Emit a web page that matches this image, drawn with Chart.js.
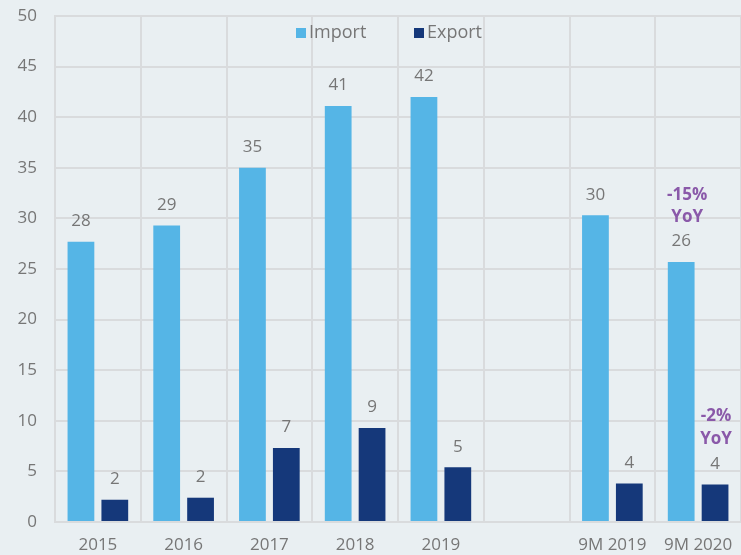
<!DOCTYPE html>
<html>
<head>
<meta charset="utf-8">
<script src="https://cdn.jsdelivr.net/npm/chart.js@4/dist/chart.umd.min.js"></script>
<style>
  html, body { margin: 0; padding: 0; background: #e9eff2; }
  #wrap { width: 741px; height: 555px; }
</style>
</head>
<body>
<div id="wrap"><canvas id="chart" width="741" height="555"></canvas></div>
<script>
// Chart data (bn)
const categories = ['2015', '2016', '2017', '2018', '2019', '', '9M 2019', '9M 2020'];
const importValues = [27.7, 29.3, 35.0, 41.1, 42.0, null, 30.3, 25.7];
const exportValues = [2.2, 2.4, 7.3, 9.3, 5.4, null, 3.8, 3.7];
const yTicks = [0, 5, 10, 15, 20, 25, 30, 35, 40, 45, 50];
const importNote = ['-15%', 'YoY'];
const exportNote = ['-2%', 'YoY'];

const FONT = "'Open Sans', 'Noto Sans', sans-serif";
const GRAY = '#767676';
const PURPLE = '#8a59a9';

// value labels, YoY notes and the legend inside the plot
const labelsPlugin = {
  id: 'labels',
  afterDatasetsDraw(chart) {
    const ctx = chart.ctx;
    ctx.save();
    ctx.font = '17px ' + FONT;
    ctx.fillStyle = GRAY;
    ctx.textAlign = 'center';
    ctx.textBaseline = 'bottom';
    chart.data.datasets.forEach((ds, i) => {
      chart.getDatasetMeta(i).data.forEach((bar, j) => {
        if (ds.data[j] == null) return;
        ctx.fillText(Math.round(ds.data[j]), bar.x, bar.y - 12);
      });
    });

    // YoY notes on the last period
    const last = categories.length - 1;
    ctx.font = 'bold 17px ' + FONT;
    ctx.fillStyle = PURPLE;
    const imp = chart.getDatasetMeta(0).data[last];
    ctx.fillText(importNote[0], imp.x + 6, imp.y - 58);
    ctx.fillText(importNote[1], imp.x + 6, imp.y - 36);
    const exp = chart.getDatasetMeta(1).data[last];
    ctx.fillText(exportNote[0], exp.x + 1, exp.y - 60);
    ctx.fillText(exportNote[1], exp.x + 1, exp.y - 37);

    // legend
    ctx.font = '18px ' + FONT;
    ctx.textAlign = 'left';
    ctx.textBaseline = 'middle';
    const items = [[296, 0], [414, 1]];
    items.forEach(([x, i]) => {
      const ds = chart.data.datasets[i];
      ctx.fillStyle = ds.backgroundColor;
      ctx.fillRect(x, 28, 10, 10);
      ctx.fillStyle = GRAY;
      ctx.fillText(ds.label, x + 13, 33);
    });
    ctx.restore();
  }
};

new Chart(document.getElementById('chart'), {
  type: 'bar',
  data: {
    labels: categories,
    datasets: [
      {
        label: 'Import',
        data: importValues,
        backgroundColor: '#55b5e6',
        categoryPercentage: 0.79,
        barPercentage: 0.79
      },
      {
        label: 'Export',
        data: exportValues,
        backgroundColor: '#15387a',
        categoryPercentage: 0.79,
        barPercentage: 0.79
      }
    ]
  },
  options: {
    responsive: false,
    animation: false,
    layout: { padding: { top: 16, right: 0, left: 0, bottom: 0 } },
    plugins: {
      legend: { display: false },
      tooltip: { enabled: false }
    },
    scales: {
      x: {
        grid: { color: '#d9dbdd', lineWidth: 2, drawTicks: false },
        border: { color: '#d9dbdd', width: 2 },
        ticks: { color: GRAY, font: { family: FONT, size: 17 }, padding: 13, maxRotation: 0 },
        afterFit(scale) {
          scale.height = 33;
          scale.paddingLeft = 0;
          scale.paddingRight = 0;
        }
      },
      y: {
        min: 0,
        max: 50,
        afterBuildTicks(scale) { scale.ticks = yTicks.map(v => ({ value: v })); },
        grid: { color: '#d9dbdd', lineWidth: 2, drawTicks: false },
        border: { color: '#d9dbdd', width: 2 },
        ticks: { color: GRAY, font: { family: FONT, size: 17 }, padding: 18 },
        afterFit(scale) {
          scale.width = 55;
          scale.paddingTop = 0;
          scale.paddingBottom = 0;
        }
      }
    }
  },
  plugins: [labelsPlugin]
});
</script>
</body>
</html>
